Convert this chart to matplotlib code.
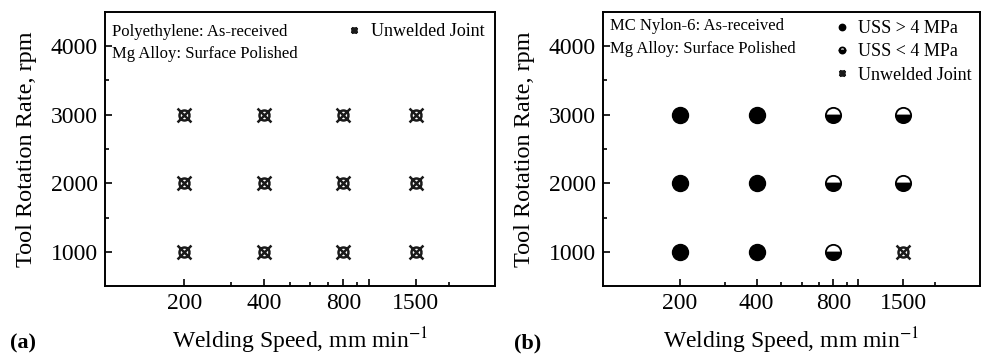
import matplotlib
matplotlib.use("Agg")
import matplotlib.pyplot as plt
from matplotlib.path import Path
from matplotlib.ticker import FixedLocator, FixedFormatter, NullFormatter
import numpy as np

plt.rcParams["font.family"] = ["Liberation Serif", "DejaVu Serif"]
plt.rcParams["mathtext.fontset"] = "stix"

# panel (a): Polyethylene / Mg alloy
a_unwelded_speed = [200, 400, 800, 1500, 200, 400, 800, 1500, 200, 400, 800, 1500]
a_unwelded_rpm = [1000, 1000, 1000, 1000, 2000, 2000, 2000, 2000, 3000, 3000, 3000, 3000]

# panel (b): MC Nylon-6 / Mg alloy
b_high_speed = [200, 400, 200, 400, 200, 400]
b_high_rpm = [1000, 1000, 2000, 2000, 3000, 3000]
b_low_speed = [800, 800, 1500, 800, 1500]
b_low_rpm = [1000, 2000, 2000, 3000, 3000]
b_unwelded_speed = [1500]
b_unwelded_rpm = [1000]

speed_ticks = [200, 400, 800, 1000, 1500]
speed_labels = ["200", "400", "800", "", "1500"]
speed_minor = [300, 500, 600, 700, 900, 2000]
rpm_ticks = [1000, 2000, 3000, 4000]
rpm_minor = [1500, 2500, 3500]

# circle with a cross: "unwelded joint" symbol
t = np.linspace(0, 2 * np.pi, 40)
circ = Path(np.column_stack([0.72 * np.cos(t), 0.72 * np.sin(t)]))
cross = Path([(-1, -1), (1, 1), (-1, 1), (1, -1)],
             [Path.MOVETO, Path.LINETO, Path.MOVETO, Path.LINETO])
unwelded_marker = Path.make_compound_path(circ, cross)

fig = plt.figure(figsize=(9.82, 3.56), dpi=100)
W, H = 982, 356
ax_a = fig.add_axes([105 / W, 1 - 286 / H, (495 - 105) / W, (286 - 12) / H])
ax_b = fig.add_axes([603 / W, 1 - 286 / H, (980 - 603) / W, (286 - 12) / H])


def style_axes(ax):
    ax.set_xscale("log")
    ax.set_xlim(100, 3000)
    ax.set_ylim(500, 4500)
    ax.xaxis.set_major_locator(FixedLocator(speed_ticks))
    ax.xaxis.set_major_formatter(FixedFormatter(speed_labels))
    ax.xaxis.set_minor_locator(FixedLocator(speed_minor))
    ax.xaxis.set_minor_formatter(NullFormatter())
    ax.yaxis.set_major_locator(FixedLocator(rpm_ticks))
    ax.yaxis.set_minor_locator(FixedLocator(rpm_minor))
    ax.tick_params(which="both", direction="in", top=False, right=False,
                   labelsize=17, width=1.2)
    ax.tick_params(which="major", length=5, pad=5)
    ax.tick_params(which="minor", length=3)
    for sp in ax.spines.values():
        sp.set_linewidth(1.4)
    ax.set_xlabel("Welding Speed, mm min$^{-1}$", fontsize=17, labelpad=8)
    ax.set_ylabel("Tool Rotation Rate, rpm", fontsize=17.5, labelpad=10)


style_axes(ax_a)
style_axes(ax_b)

unw_kw = dict(marker=unwelded_marker, linestyle="none", markersize=10,
              markerfacecolor="none", markeredgecolor="#1a1a1a", markeredgewidth=1.8)

ax_a.plot(a_unwelded_speed, a_unwelded_rpm, label="Unwelded Joint", **unw_kw)

ax_b.plot(b_high_speed, b_high_rpm, marker="o", linestyle="none", markersize=11.5,
          color="black", label="USS > 4 MPa")
ax_b.plot(b_low_speed, b_low_rpm, marker="o", linestyle="none", markersize=11,
          color="black", fillstyle="bottom", markerfacecoloralt="white",
          markeredgewidth=1.3, label="USS < 4 MPa")
ax_b.plot(b_unwelded_speed, b_unwelded_rpm, label="Unwelded Joint", **unw_kw)

ax_a.text(0.018, 0.927, "Polyethylene: As-received", transform=ax_a.transAxes,
          fontsize=12, va="center")
ax_a.text(0.018, 0.847, "Mg Alloy: Surface Polished", transform=ax_a.transAxes,
          fontsize=12, va="center")
ax_b.text(0.018, 0.949, "MC Nylon-6: As-received", transform=ax_b.transAxes,
          fontsize=12, va="center")
ax_b.text(0.018, 0.865, "Mg Alloy: Surface Polished", transform=ax_b.transAxes,
          fontsize=12, va="center")

ax_a.legend(loc="upper right", frameon=False, fontsize=13, markerscale=0.4,
            handlelength=0.8, handletextpad=0.5, borderaxespad=0.2,
            bbox_to_anchor=(1.0, 1.0))
ax_b.legend(loc="upper right", frameon=False, fontsize=13, markerscale=0.4,
            handlelength=0.8, handletextpad=0.5, labelspacing=0.35,
            borderaxespad=0.05, bbox_to_anchor=(1.0, 1.0))

fig.text(10 / W, 1 - 343 / H, "(a)", fontsize=16, fontweight="bold", va="center")
fig.text(514 / W, 1 - 343 / H, "(b)", fontsize=16, fontweight="bold", va="center")

fig.savefig("out.png", dpi=100)
